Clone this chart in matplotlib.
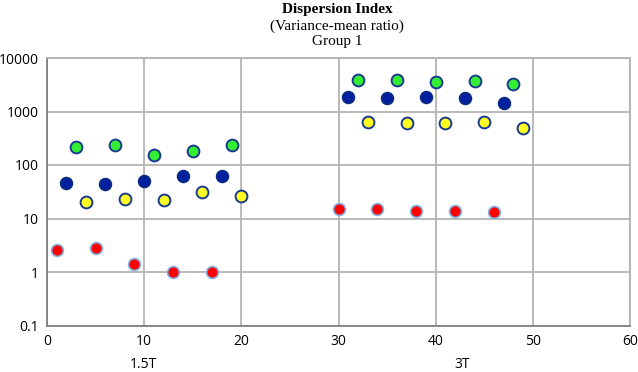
import matplotlib
matplotlib.use("Agg")
import matplotlib.pyplot as plt

# Data
red_x = [1, 5, 9, 13, 17, 30, 34, 38, 42, 46]
red_y = [2.6, 2.8, 1.4, 1.0, 1.0, 15, 15, 14, 14, 13.5]
blue_x = [2, 6, 10, 14, 18, 31, 35, 39, 43, 47]
blue_y = [47, 44, 51, 61, 63, 1830, 1750, 1900, 1750, 1470]
green_x = [3, 7, 11, 15, 19, 32, 36, 40, 44, 48]
green_y = [218, 237, 154, 183, 237, 3800, 3800, 3500, 3650, 3200]
yellow_x = [4, 8, 12, 16, 20, 33, 37, 41, 45, 49]
yellow_y = [20, 23, 22, 31, 26, 640, 610, 610, 640, 490]

x_ticks = [0, 10, 20, 30, 40, 50, 60]
y_ticks = [0.1, 1, 10, 100, 1000, 10000]
y_labels = ["0.1", "1", "10", "100", "1000", "10000"]
group_labels = ["1.5T", "3T"]

fig = plt.figure(figsize=(6.38, 3.72), dpi=100)
ax = fig.add_axes([47/638, 1 - 325.5/372, (630-47)/638, (325.5-58)/372])
ax.set_yscale("log")
ax.set_xlim(0, 60)
ax.set_ylim(0.1, 10000)
ax.set_xticks(x_ticks)
ax.set_yticks(y_ticks)
ax.set_yticklabels(y_labels)
ax.minorticks_off()
ax.grid(True, color="#b4b4b4", linewidth=1.3)
ax.set_axisbelow(True)
for s in ax.spines.values():
    s.set_color("#b4b4b4")
    s.set_linewidth(1.3)
ax.spines["left"].set_color("#808080")
ax.spines["bottom"].set_color("#808080")
ax.tick_params(length=0, labelsize=10, pad=6)
for lab in ax.get_xticklabels() + ax.get_yticklabels():
    lab.set_fontfamily("Open Sans")

ms = 8.5
ax.plot(red_x, red_y, "o", ms=ms, mfc="#ff0000", mec="#7fb0e0", mew=1.2, ls="none")
ax.plot(blue_x, blue_y, "o", ms=ms, mfc="#00209f", mec="#0a2a80", mew=1.2, ls="none")
ax.plot(green_x, green_y, "o", ms=ms, mfc="#33ee33", mec="#1a3a90", mew=1.4, ls="none")
ax.plot(yellow_x, yellow_y, "o", ms=ms, mfc="#ffff22", mec="#1a3a90", mew=1.4, ls="none")

fig.text(337/638, 1 - 10/372, "Dispersion Index", ha="center", va="center",
         fontfamily="Liberation Serif", fontweight="bold", fontsize=11)
fig.text(337/638, 1 - 26/372, "(Variance-mean ratio)", ha="center", va="center",
         fontfamily="Liberation Serif", fontsize=11)
fig.text(337/638, 1 - 42/372, "Group 1", ha="center", va="center",
         fontfamily="Liberation Serif", fontsize=11)

fig.text(143/638, 1 - 365/372, group_labels[0], ha="center", va="center",
         fontfamily="Open Sans", fontsize=10)
fig.text(462/638, 1 - 365/372, group_labels[1], ha="center", va="center",
         fontfamily="Open Sans", fontsize=10)

fig.savefig("out.png", dpi=100)
